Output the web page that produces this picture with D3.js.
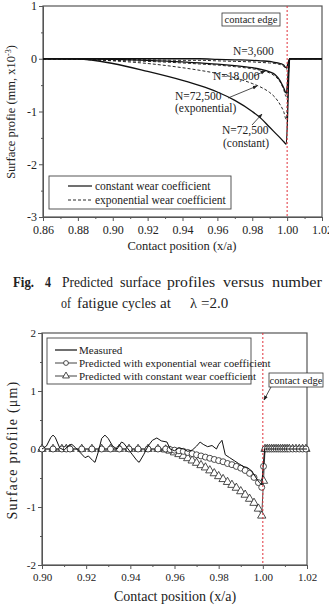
<!DOCTYPE html>
<html>
<head>
<meta charset="utf-8">
<script src="https://cdn.jsdelivr.net/npm/d3@7"></script>
<style>
  body { margin: 0; background: #fff; }
  text { font-family: "Liberation Serif", "Times New Roman", serif; fill: #222; }
</style>
</head>
<body>
<div id="chart-area"></div>
<script>
// ---- top chart (Fig. 4) data
var topX = [0.86, 0.88, 0.90, 0.92, 0.94, 0.95, 0.96, 0.97, 0.98, 0.985, 0.99, 0.993, 0.996, 0.998, 0.9995, 1.0015, 1.02];
var const3600 = [0, 0, 0, 0, 0, 0, -0.01, -0.02, -0.03, -0.04, -0.05, -0.07, -0.09, -0.12, -0.17, 0, 0];
var exp3600 = [0, 0, -0.01, -0.02, -0.03, -0.03, -0.04, -0.05, -0.06, -0.07, -0.08, -0.09, -0.11, -0.14, -0.2, 0, 0];
var const18000 = [0, 0, -0.01, -0.03, -0.06, -0.08, -0.1, -0.13, -0.17, -0.2, -0.25, -0.3, -0.42, -0.55, -0.65, 0, 0];
var exp18000 = [0, -0.01, -0.03, -0.05, -0.08, -0.1, -0.12, -0.15, -0.19, -0.22, -0.27, -0.33, -0.44, -0.58, -0.72, 0, 0];
var const72500 = [0, -0.005, -0.09, -0.24, -0.41, -0.51, -0.63, -0.79, -1.0, -1.13, -1.3, -1.4, -1.5, -1.57, -1.62, 0, 0];
var exp72500 = [0, -0.01, -0.04, -0.09, -0.17, -0.22, -0.28, -0.36, -0.47, -0.54, -0.64, -0.73, -0.87, -1.0, -1.15, 0, 0];
var topXTicks = [0.86, 0.88, 0.90, 0.92, 0.94, 0.96, 0.98, 1.00, 1.02];
var topYTicks = [-3, -2, -1, 0, 1];

// ---- bottom chart data
var measX = [0.900, 0.902, 0.904, 0.905, 0.906, 0.908, 0.910, 0.912, 0.9135, 0.915, 0.917, 0.9195, 0.921, 0.923, 0.924, 0.9255,
  0.927, 0.9285, 0.930, 0.932, 0.934, 0.936, 0.937, 0.939, 0.941, 0.943, 0.944, 0.946, 0.948, 0.950, 0.952, 0.954, 0.9566,
  0.958, 0.960, 0.962, 0.964, 0.966, 0.968, 0.970, 0.9716, 0.973, 0.975, 0.977, 0.979, 0.980, 0.9815, 0.983, 0.985, 0.987,
  0.989, 0.991, 0.993, 0.995, 0.997, 0.9985, 0.9995, 1.0008, 1.02];
var measY = [0, 0.05, 0.2, 0.24, 0.2, 0.02, -0.02, 0.06, 0.08, 0.03, -0.05, -0.15, -0.12, -0.2, -0.23, -0.05,
  0.18, 0.24, 0.18, 0.05, 0, 0.12, 0.1, 0, -0.1, -0.2, -0.23, -0.1, 0.05, 0.15, 0.19, 0.14, 0.12,
  0, -0.03, 0.02, 0, -0.04, -0.02, 0.05, 0.12, 0.08, 0.04, 0.06, 0, 0.08, 0.15, -0.1, -0.15, -0.2,
  -0.25, -0.3, -0.32, -0.38, -0.5, -0.58, -0.62, 0, 0];

var predX = [0.900, 0.905, 0.909, 0.911, 0.9127, 0.918, 0.9226, 0.927, 0.931, 0.935, 0.9394, 0.9435, 0.948, 0.9525,
  0.956, 0.958, 0.960, 0.962, 0.964, 0.966, 0.968, 0.970, 0.972, 0.974, 0.976, 0.978, 0.980, 0.982, 0.984, 0.986,
  0.988, 0.990, 0.992, 0.994, 0.996, 0.998, 0.9995, 1.0003,
  1.001, 1.002, 1.003, 1.004, 1.005, 1.006, 1.007, 1.008, 1.009, 1.010, 1.011, 1.012, 1.0135, 1.015, 1.0165, 1.018, 1.0195];
var predExp = [0, 0, 0, 0, 0, 0, 0, 0, 0, 0, 0, 0, 0, 0,
  0, -0.01, -0.02, -0.03, -0.04, -0.06, -0.08, -0.1, -0.12, -0.14, -0.16, -0.18, -0.2, -0.22, -0.25, -0.27,
  -0.3, -0.33, -0.37, -0.42, -0.49, -0.58, -0.66, -0.3,
  0, 0, 0, 0, 0, 0, 0, 0, 0, 0, 0, 0, 0, 0, 0, 0, 0];
var predConst = [0, 0, 0, 0, 0, 0, 0, 0, 0, 0, 0, 0, 0, 0,
  -0.01, -0.03, -0.06, -0.09, -0.12, -0.16, -0.2, -0.24, -0.28, -0.32, -0.37, -0.42, -0.47, -0.52, -0.57, -0.62,
  -0.67, -0.73, -0.79, -0.86, -0.93, -1.03, -1.15, -0.55,
  0, 0, 0, 0, 0, 0, 0, 0, 0, 0, 0, 0, 0, 0, 0, 0, 0];
var botXTicks = [0.90, 0.92, 0.94, 0.96, 0.98, 1.00, 1.02];
var botYTicks = [-2, -1, 0, 1, 2];

var svg = d3.select("#chart-area").append("svg")
    .attr("width", 329)
    .attr("height", 610);

svg.append("rect").attr("width", 329).attr("height", 610).attr("fill", "white");

var defs = svg.append("defs");
defs.append("marker")
    .attr("id", "arrow")
    .attr("viewBox", "0 0 10 10")
    .attr("refX", 9).attr("refY", 5)
    .attr("markerWidth", 6).attr("markerHeight", 6)
    .attr("orient", "auto")
  .append("path")
    .attr("d", "M0,1L10,5L0,9Z")
    .attr("fill", "#222");

var axisColor = "#555";

function frame(x, y, xTicks, yTicks, minorX, minorY, fs) {
    var g = svg.append("g");
    var x0 = x.range()[0], x1 = x.range()[1], y0 = y.range()[0], y1 = y.range()[1];

    var xa = g.append("g").attr("transform", "translate(0," + y0 + ")")
        .call(d3.axisBottom(x).tickValues(xTicks).tickSize(4).tickSizeOuter(0).tickFormat(d3.format(".2f")));
    g.append("g").attr("transform", "translate(0," + y0 + ")")
        .call(d3.axisBottom(x).tickValues(minorX).tickSize(2).tickSizeOuter(0).tickFormat(""));
    var ya = g.append("g").attr("transform", "translate(" + x0 + ",0)")
        .call(d3.axisLeft(y).tickValues(yTicks).tickSize(4).tickSizeOuter(0).tickFormat(d3.format("d")));
    g.append("g").attr("transform", "translate(" + x0 + ",0)")
        .call(d3.axisLeft(y).tickValues(minorY).tickSize(2).tickSizeOuter(0).tickFormat(""));

    g.selectAll(".tick line, .domain").attr("stroke", axisColor);
    g.selectAll(".tick text")
        .attr("font-size", fs)
        .attr("fill", "#222");
    ya.selectAll(".tick text").text(function(d) { return d < 0 ? "-" + Math.abs(d) : d; }).attr("x", -6);
    xa.selectAll(".tick text").attr("y", 8);

    g.append("rect")
        .attr("x", x0).attr("y", y1)
        .attr("width", x1 - x0).attr("height", y0 - y1)
        .attr("fill", "none")
        .attr("stroke", axisColor)
        .attr("stroke-width", 1.2);
    return g;
}

// ======== TOP CHART
var xT = d3.scaleLinear().domain([0.86, 1.02]).range([43, 322]);
var yT = d3.scaleLinear().domain([-3, 1]).range([217, 6]);

frame(xT, yT, topXTicks, topYTicks,
      [0.87, 0.89, 0.91, 0.93, 0.95, 0.97, 0.99, 1.01],
      [-2.5, -1.5, -0.5, 0.5], 12);

var lineT = d3.line()
    .x(function(d, i) { return xT(topX[i]); })
    .y(function(d) { return yT(d); })
    .curve(d3.curveMonotoneX);

var topSeries = [
    { v: exp3600, dash: "3,2" },
    { v: exp18000, dash: "3,2" },
    { v: exp72500, dash: "3,2" },
    { v: const3600, dash: null },
    { v: const18000, dash: null },
    { v: const72500, dash: null }
];
topSeries.forEach(function(s) {
    svg.append("path")
        .attr("d", lineT(s.v))
        .attr("fill", "none")
        .attr("stroke", "#111")
        .attr("stroke-width", s.dash ? 0.9 : 1.3)
        .attr("stroke-dasharray", s.dash);
});

svg.append("line")
    .attr("x1", xT(1.0)).attr("x2", xT(1.0))
    .attr("y1", yT(1)).attr("y2", yT(-3))
    .attr("stroke", "#e0303a").attr("stroke-width", 1)
    .attr("stroke-dasharray", "2,2");

// contact edge box (top)
svg.append("rect").attr("x", 222).attr("y", 13).attr("width", 58).attr("height", 13)
    .attr("fill", "white").attr("stroke", "#333").attr("stroke-width", 0.8);
svg.append("text").attr("x", 251).attr("y", 23).attr("text-anchor", "middle")
    .attr("font-size", 10.5).text("contact edge");

// curve labels
svg.append("text").attr("x", 233).attr("y", 55).attr("font-size", 11.5).text("N=3,600");
svg.append("text").attr("x", 213).attr("y", 80).attr("font-size", 11.5).text("N=18,000");
svg.append("text").attr("x", 175).attr("y", 100).attr("font-size", 11.5).text("N=72,500");
svg.append("text").attr("x", 175).attr("y", 112).attr("font-size", 11.5).text("(exponential)");
svg.append("text").attr("x", 222).attr("y", 134).attr("font-size", 11.5).text("N=72,500");
svg.append("text").attr("x", 223).attr("y", 147).attr("font-size", 11.5).text("(constant)");

function arrow(x1, y1, x2, y2) {
    svg.append("line")
        .attr("x1", x1).attr("y1", y1).attr("x2", x2).attr("y2", y2)
        .attr("stroke", "#222").attr("stroke-width", 0.8)
        .attr("marker-end", "url(#arrow)");
}
arrow(254, 76, 265, 71);
arrow(228, 98, 257, 86);
arrow(252, 125, 262, 114);

// legend (top)
svg.append("rect").attr("x", 49).attr("y", 176).attr("width", 182).attr("height", 33)
    .attr("fill", "white").attr("stroke", "#444").attr("stroke-width", 0.9);
svg.append("line").attr("x1", 68).attr("x2", 92).attr("y1", 186).attr("y2", 186)
    .attr("stroke", "#111").attr("stroke-width", 1.2);
svg.append("text").attr("x", 95).attr("y", 190).attr("font-size", 11.5).text("constant wear coefficient");
svg.append("line").attr("x1", 68).attr("x2", 92).attr("y1", 200).attr("y2", 200)
    .attr("stroke", "#111").attr("stroke-width", 0.9).attr("stroke-dasharray", "3,2");
svg.append("text").attr("x", 95).attr("y", 204).attr("font-size", 11.5).text("exponential wear coefficient");

// axis titles (top)
svg.append("text").attr("x", 182).attr("y", 250).attr("text-anchor", "middle")
    .attr("font-size", 12.5).text("Contact position (x/a)");
var yt = svg.append("text")
    .attr("transform", "translate(15,112) rotate(-90)")
    .attr("text-anchor", "middle")
    .attr("font-size", 12.5);
yt.append("tspan").text("Surface profie (mm, x10");
yt.append("tspan").attr("baseline-shift", "super").attr("font-size", 8).text("-3");
yt.append("tspan").text(")");

// caption: word, left x, width
var cap1 = [["Fig.", 13, 21], ["4", 45, 6], ["Predicted", 62, 51], ["surface", 120, 41],
            ["profiles", 167, 48], ["versus", 223, 41], ["number", 272, 50]];
cap1.forEach(function(w, i) {
    svg.append("text").attr("x", w[1]).attr("y", 287)
        .attr("font-size", 14.5)
        .attr("font-weight", i < 2 ? "bold" : "normal")
        .attr("textLength", w[2]).attr("lengthAdjust", "spacingAndGlyphs")
        .text(w[0]);
});
var cap2 = [["of", 61, 10], ["fatigue", 77, 41], ["cycles", 122, 34], ["at", 160, 11]];
cap2.forEach(function(w) {
    svg.append("text").attr("x", w[1]).attr("y", 308).attr("font-size", 14.5)
        .attr("textLength", w[2]).attr("lengthAdjust", "spacingAndGlyphs")
        .text(w[0]);
});
svg.append("text").attr("x", 190).attr("y", 308).attr("font-size", 14.5).text("\u03bb");
svg.append("text").attr("x", 201).attr("y", 308).attr("font-size", 15).text("=2.0");

// ======== BOTTOM CHART
var xB = d3.scaleLinear().domain([0.90, 1.02]).range([42, 307]);
var yB = d3.scaleLinear().domain([-2, 2]).range([565, 333]);

frame(xB, yB, botXTicks, botYTicks,
      [0.91, 0.93, 0.95, 0.97, 0.99, 1.01],
      [-1.5, -0.5, 0.5, 1.5], 11);

var lineB = d3.line()
    .x(function(d) { return xB(d[0]); })
    .y(function(d) { return yB(d[1]); });

var constPts = predX.map(function(x, i) { return [x, predConst[i]]; });
var expPts = predX.map(function(x, i) { return [x, predExp[i]]; });
var measPts = measX.map(function(x, i) { return [x, measY[i]]; });

svg.append("path").attr("d", lineB(constPts)).attr("fill", "none")
    .attr("stroke", "#222").attr("stroke-width", 0.8);
var tri = d3.symbol().type(d3.symbolTriangle).size(30);
svg.append("g").selectAll("path").data(constPts).enter().append("path")
    .attr("d", tri)
    .attr("transform", function(d) { return "translate(" + xB(d[0]) + "," + yB(d[1]) + ")"; })
    .attr("fill", "white").attr("stroke", "#222").attr("stroke-width", 0.8);

svg.append("path").attr("d", lineB(expPts)).attr("fill", "none")
    .attr("stroke", "#222").attr("stroke-width", 0.8);
svg.append("g").selectAll("circle").data(expPts).enter().append("circle")
    .attr("cx", function(d) { return xB(d[0]); })
    .attr("cy", function(d) { return yB(d[1]); })
    .attr("r", 3)
    .attr("fill", "white").attr("stroke", "#222").attr("stroke-width", 0.8);

svg.append("path").attr("d", lineB(measPts)).attr("fill", "none")
    .attr("stroke", "#111").attr("stroke-width", 1);

svg.append("line")
    .attr("x1", xB(1.0)).attr("x2", xB(1.0))
    .attr("y1", yB(2)).attr("y2", yB(-2))
    .attr("stroke", "#e0303a").attr("stroke-width", 1)
    .attr("stroke-dasharray", "2,2");

// legend (bottom)
svg.append("rect").attr("x", 47).attr("y", 338).attr("width", 204).attr("height", 46)
    .attr("fill", "white").attr("stroke", "#444").attr("stroke-width", 0.9);
var legB = [["Measured", 350, null], ["Predicted with exponential wear coefficient", 363, "circle"],
            ["Predicted with constant wear coefficient", 376, "tri"]];
legB.forEach(function(l) {
    svg.append("line").attr("x1", 55).attr("x2", 77).attr("y1", l[1]).attr("y2", l[1])
        .attr("stroke", "#111").attr("stroke-width", l[2] ? 0.8 : 1.2);
    if (l[2] === "circle") {
        svg.append("circle").attr("cx", 66).attr("cy", l[1]).attr("r", 2.4)
            .attr("fill", "white").attr("stroke", "#222").attr("stroke-width", 0.8);
    } else if (l[2] === "tri") {
        svg.append("path").attr("d", d3.symbol().type(d3.symbolTriangle).size(20))
            .attr("transform", "translate(66," + l[1] + ")")
            .attr("fill", "white").attr("stroke", "#222").attr("stroke-width", 0.8);
    }
    svg.append("text").attr("x", 79).attr("y", l[1] + 4).attr("font-size", 11).text(l[0]);
});

// contact edge box (bottom)
svg.append("rect").attr("x", 269).attr("y", 373).attr("width", 54).attr("height", 14)
    .attr("fill", "white").attr("stroke", "#333").attr("stroke-width", 0.8);
svg.append("text").attr("x", 296).attr("y", 383.5).attr("text-anchor", "middle")
    .attr("font-size", 10.5).text("contact edge");
arrow(271, 387, 264, 400);

// axis titles (bottom)
svg.append("text").attr("x", 175).attr("y", 601).attr("text-anchor", "middle")
    .attr("font-size", 14).text("Contact position (x/a)");
svg.append("text")
    .attr("transform", "translate(17,450) rotate(-90)")
    .attr("text-anchor", "middle")
    .attr("font-size", 14)
    .attr("letter-spacing", 1.2)
    .text("Surface profile (\u03bcm)");
</script>
</body>
</html>
